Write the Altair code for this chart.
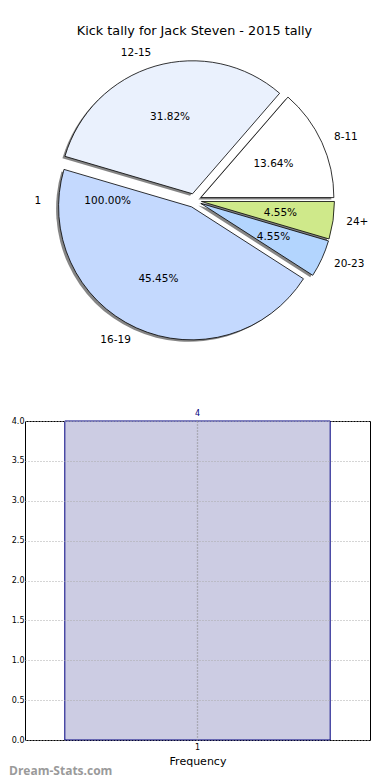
import math
import altair as alt
import pandas as pd

# ---------------- data ----------------
title_text = "Kick tally for Jack Steven - 2015 tally"

slice_labels = ["8-11", "12-15", "1", "16-19", "20-23", "24+"]
slice_counts = [3, 7, 0, 10, 1, 1]
slice_pct = ["13.64%", "31.82%", "100.00%", "45.45%", "4.55%", "4.55%"]
slice_colors = ["#ffffff", "#eaf1fd", "#dddddd", "#c4d9fe", "#b3d5fe", "#cfe98a"]

bar_categories = ["1"]
bar_values = [4]
bar_axis_title = "Frequency"
y_tick_values = [0.0, 0.5, 1.0, 1.5, 2.0, 2.5, 3.0, 3.5, 4.0]
watermark_text = "Dream-Stats.com"

# ---------------- style ----------------
FONT = "DejaVu Sans"
R = 133          # pie radius (px)
EXPLODE = 7      # explode distance (px)
PIE_W, PIE_H = 339, 317
BAR_W, BAR_H = 345, 319

total = sum(slice_counts)
rows = []
cum = 0
for lab, c, p, col in zip(slice_labels, slice_counts, slice_pct, slice_colors):
    start, end = cum, cum + c
    cum = end
    # the empty "1" slice has its labels drawn on the left side (as in the original)
    mid = (start + end) / 2 if c > 0 else total / 2
    ang = 2 * math.pi * mid / total  # counter-clockwise from 3 o'clock
    rows.append(dict(label=lab, count=c, start=start, end=end, mid=mid, pct=p,
                     color=col, side="right" if math.cos(ang) >= 1e-9 else "left",
                     dx=EXPLODE * math.cos(ang), dy=-EXPLODE * math.sin(ang)))
pie_df = pd.DataFrame(rows)

theta_scale = alt.Scale(domain=[0, total], range=[2.5 * math.pi, 0.5 * math.pi])

shadow_layers = []
slice_layers = []
for r in rows:
    if r["count"] <= 0:
        continue
    base = alt.Chart(pie_df).transform_filter(alt.datum.label == r["label"])
    enc = dict(theta=alt.Theta("start:Q", scale=theta_scale, stack=False),
               theta2=alt.Theta2("end:Q"))
    shadow_layers.append(
        base.mark_arc(radius=R, xOffset=r["dx"] - 2.5, yOffset=r["dy"] + 2,
                      fill="#333333", opacity=0.6, strokeWidth=0)
        .encode(**enc)
    )
    slice_layers.append(
        base.mark_arc(radius=R, xOffset=r["dx"], yOffset=r["dy"],
                      stroke="black", strokeWidth=0.8)
        .encode(color=alt.Color("color:N", scale=None), **enc)
    )

pct_text = alt.Chart(pie_df).mark_text(
    radius=0.6 * R + EXPLODE, font=FONT, fontSize=10.5, color="black",
    baseline="middle", align="center"
).encode(theta=alt.Theta("mid:Q", scale=theta_scale, stack=False), text="pct:N")

name_right = alt.Chart(pie_df).transform_filter(alt.datum.side == "right").mark_text(
    radius=1.1 * R + EXPLODE, font=FONT, fontSize=10.5, color="black",
    baseline="middle", align="left"
).encode(theta=alt.Theta("mid:Q", scale=theta_scale, stack=False), text="label:N")

name_left = alt.Chart(pie_df).transform_filter(alt.datum.side == "left").mark_text(
    radius=1.1 * R + EXPLODE, font=FONT, fontSize=10.5, color="black",
    baseline="middle", align="right"
).encode(theta=alt.Theta("mid:Q", scale=theta_scale, stack=False), text="label:N")

pie = alt.layer(*shadow_layers, *slice_layers, pct_text, name_right, name_left).properties(
    width=PIE_W, height=PIE_H,
    title=alt.TitleParams(title_text, font=FONT, fontSize=12.8, fontWeight="normal",
                          anchor="middle", offset=4, color="black"),
    view=alt.ViewBackground(stroke="transparent"),
)

# ---------------- bar chart ----------------
bar_df = pd.DataFrame({"cat": bar_categories, "freq": bar_values})
bbase = alt.Chart(bar_df)

x_enc = alt.X("cat:N", title=bar_axis_title,
              scale=alt.Scale(paddingInner=0, paddingOuter=0.15),
              axis=alt.Axis(labelAngle=0, bandPosition=0.5, grid=True, gridDash=[1, 2],
                            gridColor="#888888", gridWidth=1.3, ticks=False, domain=False,
                            labelFont=FONT, labelFontSize=8, labelColor="black",
                            titleFont=FONT, titleFontSize=11, titleFontWeight="normal",
                            titleColor="black", labelPadding=3, titlePadding=4, zindex=1))
y_enc = alt.Y("freq:Q", scale=alt.Scale(domain=[0, 4], nice=False),
              axis=alt.Axis(values=y_tick_values, format=".1f", title=None, grid=True,
                            gridDash=[1, 2], gridColor="#aaaaaa", ticks=False, domain=False,
                            labelFont=FONT, labelFontSize=8, labelColor="black",
                            labelPadding=1, zindex=1))

bars = bbase.mark_bar(fill="#cccce3", stroke="#000080", strokeWidth=1).encode(x=x_enc, y=y_enc)
bar_text = bbase.mark_text(baseline="bottom", dy=-3, color="#000080", font=FONT,
                           fontSize=8).encode(x=x_enc, y=y_enc, text="freq:Q")
wm = bbase.mark_text(text=watermark_text, align="left", baseline="middle", font="Open Sans",
                     fontSize=12, fontWeight="bold", color="#9a9a9a").encode(
    x=alt.value(-16), y=alt.value(BAR_H + 31))

bar_chart = alt.layer(bars, bar_text, wm).properties(
    width=BAR_W, height=BAR_H,
    view=alt.ViewBackground(stroke="black", strokeWidth=1),
)

chart = alt.vconcat(pie, bar_chart, spacing=49).properties(
    padding={"top": 16, "left": 0, "right": 0, "bottom": 0}
).configure(font=FONT)

chart.save("out.html", embed_options={"renderer": "svg", "actions": False})
